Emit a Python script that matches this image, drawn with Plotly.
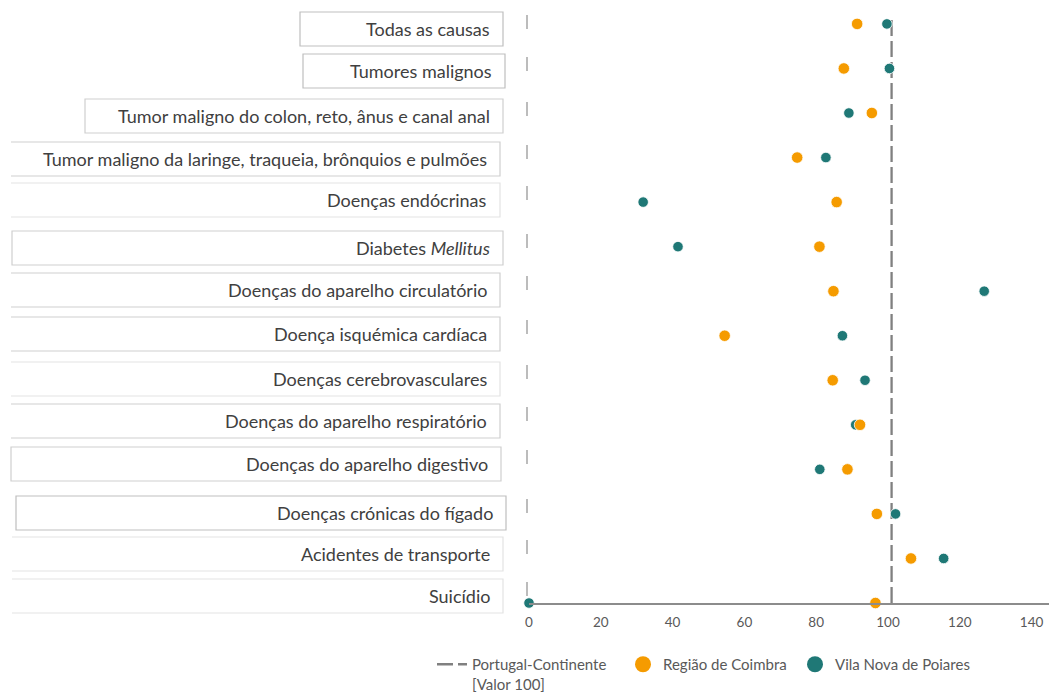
import plotly.graph_objects as go

causas = ["Todas as causas", "Tumores malignos",
          "Tumor maligno do colon, reto, ânus e canal anal",
          "Tumor maligno da laringe, traqueia, brônquios e pulmões",
          "Doenças endócrinas", "Diabetes <i>Mellitus</i>",
          "Doenças do aparelho circulatório", "Doença isquémica cardíaca",
          "Doenças cerebrovasculares", "Doenças do aparelho respiratório",
          "Doenças do aparelho digestivo", "Doenças crónicas do fígado",
          "Acidentes de transporte", "Suicídio"]
coimbra = [91.4, 87.7, 95.5, 74.7, 85.7, 80.9, 84.8, 54.5, 84.6, 92.2, 88.7, 96.9, 106.4, 96.5]
poiares = [99.7, 100.4, 89.1, 82.7, 31.8, 41.5, 126.8, 87.3, 93.6, 91.0, 81.0, 102.1, 115.5, 0]
portugal = 101  # linha de referência (Valor 100), desenhada onde aparece no original
xticks = [0, 20, 40, 60, 80, 100, 120, 140]

LARANJA = "#F59B00"
VERDE = "#1F7876"
CINZA = "#808080"

n = len(causas)
ypos = [n - 1 - i for i in range(n)]
ytop = n - 0.8

# page body has an 8px margin -> everything measured on the page is shifted by OFF
OFF = 8
FW, FH = 1057 - OFF, 692 - OFF
X0, Y0, YT = 529 - OFF, 603 - OFF, 15 - OFF
W, H = FW - X0, Y0 - YT

def px_x(p):
    return (p - OFF - X0) / W

def px_y(p):
    return (Y0 - (p - OFF)) / H

box_left = [300, 303, 85, 11, 11, 12, 11, 11, 11, 11, 11, 16, 12, 12]
box_right = [503, 505, 503, 500, 500, 503, 500, 500, 500, 500, 501, 506, 503, 503]
box_top = [12, 54, 99, 142, 183, 231, 273, 317, 362, 404, 447, 496, 537, 579]
box_full = [True, True, True, False, False, True, False, False, False, False, True, True, False, False]
box_cor = ["#bfbfbf", "#bfbfbf", "#cfcfcf", "#cfcfcf", "#e3e3e3", "#cfcfcf", "#cfcfcf",
           "#cfcfcf", "#e3e3e3", "#cfcfcf", "#cfcfcf", "#bfbfbf", "#e3e3e3", "#e3e3e3"]
BOX_H = 34

fig = go.Figure()

fig.add_trace(go.Scatter(x=[portugal, portugal], y=[0, ytop], mode="lines",
                         line=dict(color=CINZA, width=2.3, dash="16px,5px"),
                         name="Portugal-Continente<br>[Valor 100]", hoverinfo="skip",
                         legend="legend"))

fig.add_trace(go.Scatter(x=poiares, y=ypos, mode="markers", cliponaxis=False,
                         marker=dict(color=VERDE, size=10.5, line=dict(color="white", width=0.8)),
                         showlegend=False, name="Vila Nova de Poiares"))
fig.add_trace(go.Scatter(x=coimbra, y=ypos, mode="markers", cliponaxis=False,
                         marker=dict(color=LARANJA, size=11.5, line=dict(color="white", width=0.8)),
                         showlegend=False, name="Região de Coimbra"))

# legend-only entries (bigger symbols)
fig.add_trace(go.Scatter(x=[None], y=[None], mode="markers",
                         marker=dict(color=LARANJA, size=16), name="Região de Coimbra",
                         legend="legend2"))
fig.add_trace(go.Scatter(x=[None], y=[None], mode="markers",
                         marker=dict(color=VERDE, size=16), name="Vila Nova de Poiares",
                         legend="legend3"))

shapes = []
annotations = []
for i in range(n):
    l, r = px_x(box_left[i]), px_x(box_right[i])
    t, b = px_y(box_top[i]), px_y(box_top[i] + BOX_H)
    if box_full[i]:
        path = f"M {l},{t} L {r},{t} L {r},{b} L {l},{b} Z"
    else:
        path = f"M {l},{t} L {r},{t} L {r},{b} L {l},{b}"
    shapes.append(dict(type="path", xref="paper", yref="paper", path=path,
                       line=dict(color=box_cor[i], width=1.2)))
    yc = box_top[i] + BOX_H / 2
    shapes.append(dict(type="line", xref="paper", yref="paper",
                       x0=px_x(527), x1=px_x(527), y0=px_y(yc - 14), y1=px_y(yc),
                       line=dict(color="#a6a6a6", width=1.5)))
    annotations.append(dict(text=causas[i], xref="paper", yref="paper",
                            x=px_x(box_right[i] - 11), y=px_y(yc),
                            xanchor="right", yanchor="middle", showarrow=False,
                            font=dict(family="Lato", size=18, color="#404040")))

leg = dict(orientation="h", xanchor="left", yanchor="top", valign="top",
           bgcolor="rgba(0,0,0,0)", font=dict(size=15, color="#595959"))

fig.update_layout(
    width=FW, height=FH,
    margin=dict(l=X0, r=0, t=YT, b=FH - Y0, autoexpand=False),
    plot_bgcolor="white", paper_bgcolor="white",
    font=dict(family="Lato", color="#595959"),
    shapes=shapes, annotations=annotations,
    xaxis=dict(range=[0, W / 3.59], tickvals=xticks, showgrid=False, zeroline=False,
               showline=True, linecolor="#8c8c8c", linewidth=1.5,
               ticks="outside", ticklen=6, tickcolor="rgba(0,0,0,0)",
               tickfont=dict(size=13.5, color="#595959")),
    yaxis=dict(range=[0, ytop], showgrid=False, zeroline=False,
               showticklabels=False, showline=False),
    legend=dict(leg, x=px_x(432), y=px_y(648)),
    legend2=dict(leg, x=px_x(623), y=px_y(648)),
    legend3=dict(leg, x=px_x(795), y=px_y(648)),
    showlegend=True,
)

fig.write_html("out.html")
